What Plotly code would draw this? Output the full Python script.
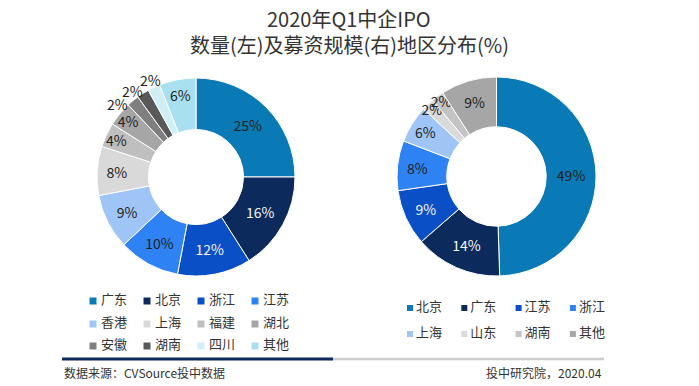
import math
import plotly.graph_objects as go

# ---------------- data ----------------
left_labels = ["广东", "北京", "浙江", "江苏", "香港", "上海", "福建", "湖北", "安徽", "湖南", "四川", "其他"]
left_values = [25, 16, 12, 10, 9, 8, 4, 4, 2, 2, 2, 6]
right_labels = ["北京", "广东", "江苏", "浙江", "上海", "山东", "湖南", "其他"]
right_values = [49, 14, 9, 8, 6, 2, 2, 9]

title_line1 = "2020年Q1中企IPO"
title_line2 = "数量(左)及募资规模(右)地区分布(%)"
source_left = "数据来源：CVSource投中数据"
source_right = "投中研究院，2020.04"

# ---------------- styles ----------------
W, H = 699, 386
TEAL, NAVY, BLUE, BRIGHT, LIGHTB = "#0a7ab6", "#0c2a5b", "#0b4fc6", "#2f82f4", "#9fc5f6"
left_colors = [TEAL, NAVY, BLUE, BRIGHT, LIGHTB, "#d9d9d9", "#bfbfbf", "#a6a6a6",
               "#7f7f7f", "#595959", "#cfeef6", "#a9e0f0"]
right_colors = [TEAL, NAVY, BLUE, BRIGHT, LIGHTB, "#dadada", "#c4c4c4", "#a6a6a6"]
DARK, WHITE = "#222222", "#f4f6f8"
left_txtcol = [DARK, WHITE, WHITE] + [DARK] * 9
right_txtcol = [DARK, WHITE, WHITE] + [DARK] * 5

FONT = "Noto Sans CJK SC, Noto Sans, sans-serif"
LABEL_SIZE = 14

# pie geometry (pixels)
L_BOX = (97, 295, 78, 276)   # left, right, top, bottom
R_BOX = (397, 596, 77, 276)


def dom(box):
    l, r, t, b = box
    return dict(x=[l / W, r / W], y=[(H - b) / H, (H - t) / H])


# small slices of the left pie get their labels outside the ring
small = [v <= 2 for v in left_values]
left_text = ["" if s else f"{v}%" for v, s in zip(left_values, small)]

fig = go.Figure()

fig.add_trace(go.Pie(
    labels=left_labels, values=left_values, sort=False, direction="clockwise",
    rotation=0, hole=0.48,
    marker=dict(colors=left_colors, line=dict(color="white", width=1)),
    text=left_text, textinfo="text", textposition="inside",
    insidetextorientation="horizontal",
    textfont=dict(family=FONT, size=LABEL_SIZE, color=left_txtcol),
    domain=dom(L_BOX), showlegend=False, hoverinfo="label+value",
))

fig.add_trace(go.Pie(
    labels=right_labels, values=right_values, sort=False, direction="clockwise",
    rotation=0, hole=0.5,
    marker=dict(colors=right_colors, line=dict(color="white", width=1)),
    texttemplate="%{value}%", textposition="inside",
    insidetextorientation="horizontal",
    textfont=dict(family=FONT, size=LABEL_SIZE, color=right_txtcol),
    domain=dom(R_BOX), showlegend=False, hoverinfo="label+value",
))

# ---------------- outside labels for the small left slices ----------------
cx = (L_BOX[0] + L_BOX[1]) / 2
cy = (L_BOX[2] + L_BOX[3]) / 2
r_out = min(L_BOX[1] - L_BOX[0], L_BOX[3] - L_BOX[2]) / 2
total = sum(left_values)
mids = []
cum = 0
for v in left_values:
    mids.append((cum + v / 2) / total * 360)
    cum += v
small_idx = [i for i, s in enumerate(small) if s]
angles = {}
prev = None
for i in reversed(small_idx):          # spread labels so they don't collide
    a = mids[i] if prev is None else min(mids[i], prev - 11)
    angles[i] = a
    prev = a
annotations = []
R_LAB = r_out + 8
for i in small_idx:
    th = math.radians(angles[i])
    px = cx + R_LAB * math.sin(th)
    py = cy - R_LAB * math.cos(th)
    annotations.append(dict(
        text=f"{left_values[i]}%", x=px / W, y=1 - py / H, xref="paper", yref="paper",
        xanchor="center", yanchor="middle", showarrow=False,
        font=dict(family=FONT, size=LABEL_SIZE, color=DARK)))

# ---------------- legends (marker grid on hidden axes) ----------------
def legend_grid(labels, colors, x0, pitch, rows_y, msize, tx):
    xs, ys = [], []
    for i in range(len(labels)):
        xs.append(x0 + (i % 4) * pitch)
        ys.append(rows_y[i // 4])
    fig.add_trace(go.Scatter(
        x=xs, y=ys, mode="markers",
        marker=dict(symbol="square", size=msize, color=colors, line=dict(width=0)),
        hoverinfo="skip", showlegend=False,
    ))
    fig.add_trace(go.Scatter(
        x=[v + tx for v in xs], y=ys, mode="text", text=labels,
        textposition="middle right",
        textfont=dict(family=FONT, size=13, color="#333333"),
        hoverinfo="skip", showlegend=False,
    ))


legend_grid(left_labels, left_colors, 93, 54, [301, 324, 346], 7, 8)
legend_grid(right_labels, right_colors, 410, 54.3, [308, 334], 6, 6)

annotations += [
    dict(text=title_line1, x=349 / W, y=1 - 19 / H, xref="paper", yref="paper",
         xanchor="center", yanchor="middle", showarrow=False,
         font=dict(family=FONT, size=20, color="#333333")),
    dict(text=title_line2, x=349 / W, y=1 - 45 / H, xref="paper", yref="paper",
         xanchor="center", yanchor="middle", showarrow=False,
         font=dict(family=FONT, size=20, color="#333333")),
    dict(text=source_left, x=62 / W, y=1 - 372 / H, xref="paper", yref="paper",
         xanchor="left", yanchor="middle", showarrow=False,
         font=dict(family=FONT, size=12, color="#333333")),
    dict(text=source_right, x=604 / W, y=1 - 372 / H, xref="paper", yref="paper",
         xanchor="right", yanchor="middle", showarrow=False,
         font=dict(family=FONT, size=12, color="#333333")),
]

fig.update_layout(
    width=W, height=H,
    margin=dict(l=0, r=0, t=0, b=0),
    paper_bgcolor="white", plot_bgcolor="rgba(0,0,0,0)",
    font=dict(family=FONT, color="#333333"),
    uniformtext=dict(minsize=13, mode="show"),
    xaxis=dict(range=[0, W], visible=False, fixedrange=True, domain=[0, 1]),
    yaxis=dict(range=[H, 0], visible=False, fixedrange=True, domain=[0, 1]),
    showlegend=False,
    annotations=annotations,
    shapes=[
        dict(type="line", xref="paper", yref="paper", x0=333 / W, x1=604 / W,
             y0=1 - 359 / H, y1=1 - 359 / H, line=dict(color="#cccccc", width=2.5)),
        dict(type="line", xref="paper", yref="paper", x0=62 / W, x1=333 / W,
             y0=1 - 359 / H, y1=1 - 359 / H, line=dict(color=NAVY, width=3)),
    ],
)

fig.write_html("out.html", config={"displayModeBar": False},
               post_script="document.body.style.margin='0px';")
